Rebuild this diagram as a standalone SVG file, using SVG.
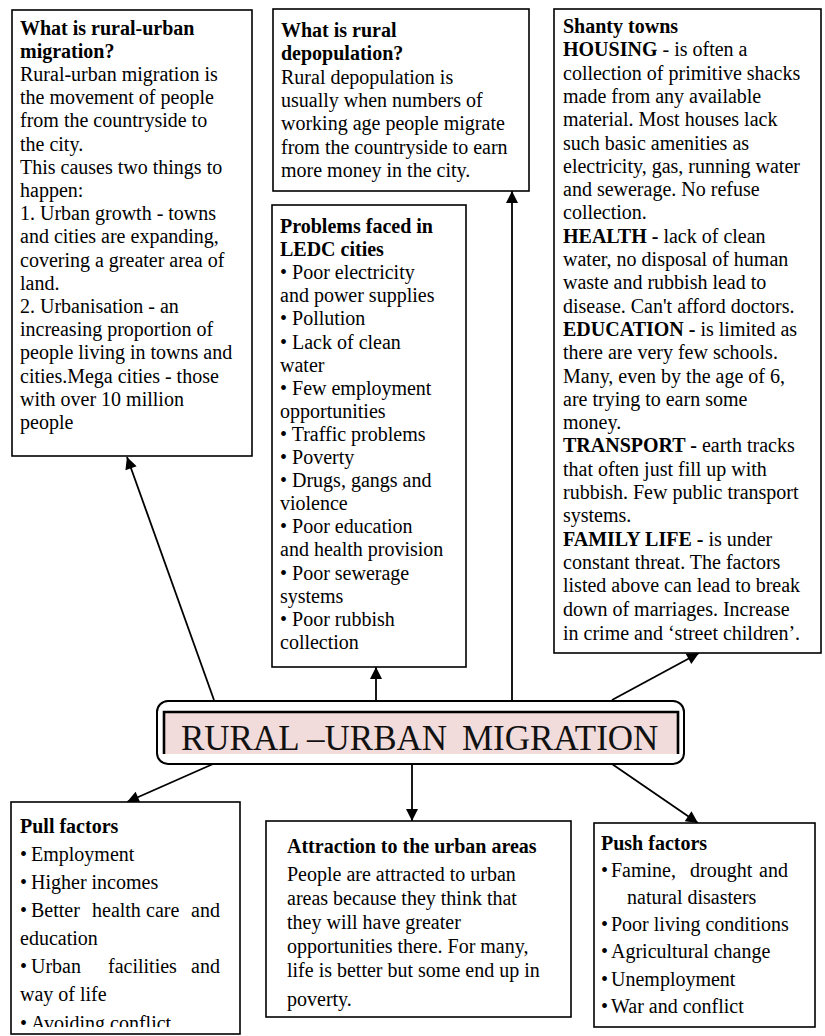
<svg xmlns="http://www.w3.org/2000/svg" width="825" height="1036" viewBox="0 0 825 1036">
<style>
.box{fill:#fff;stroke:#000;stroke-width:1.6}
.t{font-family:"Liberation Serif","Times New Roman",serif;font-size:20px;fill:#000}
.b{font-weight:bold}
.con{stroke:#000;stroke-width:1.8;fill:none;marker-end:url(#ah)}
</style>
<defs>
<marker id="ah" viewBox="0 0 10 10" refX="10" refY="5" markerWidth="14" markerHeight="12" markerUnits="userSpaceOnUse" orient="auto">
<path d="M0,0 L10,5 L0,10 z" fill="#000"/>
</marker>
<clipPath id="pullclip"><rect x="12" y="802" width="228" height="225"/></clipPath>
</defs>
<rect width="825" height="1036" fill="#fff"/>

<g id="connectors">
<line class="con" x1="214" y1="700" x2="127" y2="457"/>
<line class="con" x1="376" y1="700" x2="376" y2="667"/>
<line class="con" x1="512" y1="700" x2="512" y2="191"/>
<line class="con" x1="612" y1="700" x2="699" y2="653"/>
<line class="con" x1="213" y1="764" x2="127" y2="802"/>
<line class="con" x1="412" y1="764" x2="412" y2="821"/>
<line class="con" x1="612" y1="764" x2="698" y2="823"/>
</g>

<g id="node-rural-urban">
<rect class="box" x="12" y="10" width="240" height="446"/>
<text class="t">
<tspan class="b" x="20" y="34.5">What is rural-urban</tspan>
<tspan class="b" x="20" y="57.7">migration?</tspan>
<tspan x="20" y="80.9">Rural-urban migration is</tspan>
<tspan x="20" y="104.1">the movement of people</tspan>
<tspan x="20" y="127.3">from the countryside to</tspan>
<tspan x="20" y="150.5">the city.</tspan>
<tspan x="20" y="173.7">This causes two things to</tspan>
<tspan x="20" y="196.9">happen:</tspan>
<tspan x="20" y="220.1">1. Urban growth - towns</tspan>
<tspan x="20" y="243.3">and cities are expanding,</tspan>
<tspan x="20" y="266.5">covering a greater area of</tspan>
<tspan x="20" y="289.7">land.</tspan>
<tspan x="20" y="312.9">2. Urbanisation - an</tspan>
<tspan x="20" y="336.1">increasing proportion of</tspan>
<tspan x="20" y="359.3">people living in towns and</tspan>
<tspan x="20" y="382.5">cities.Mega cities - those</tspan>
<tspan x="20" y="405.7">with over 10 million</tspan>
<tspan x="20" y="428.9">people</tspan>
</text>
</g>

<g id="node-depopulation">
<rect class="box" x="273" y="9" width="256" height="182"/>
<text class="t">
<tspan class="b" x="281" y="37">What is rural</tspan>
<tspan class="b" x="281" y="60.3">depopulation?</tspan>
<tspan x="281" y="83.6">Rural depopulation is</tspan>
<tspan x="281" y="106.9">usually when numbers of</tspan>
<tspan x="281" y="130.2">working age people migrate</tspan>
<tspan x="281" y="153.5">from the countryside to earn</tspan>
<tspan x="281" y="176.8">more money in the city.</tspan>
</text>
</g>

<g id="node-shanty">
<rect class="box" x="554" y="9" width="267" height="644"/>
<text class="t">
<tspan class="b" x="563" y="33">Shanty towns</tspan>
<tspan x="563" y="56.3"><tspan class="b">HOUSING</tspan> - is often a</tspan>
<tspan x="563" y="79.6">collection of primitive shacks</tspan>
<tspan x="563" y="102.9">made from any available</tspan>
<tspan x="563" y="126.2">material. Most houses lack</tspan>
<tspan x="563" y="149.5">such basic amenities as</tspan>
<tspan x="563" y="172.8">electricity, gas, running water</tspan>
<tspan x="563" y="196.1">and sewerage. No refuse</tspan>
<tspan x="563" y="219.4">collection.</tspan>
<tspan x="563" y="242.7"><tspan class="b">HEALTH -</tspan> lack of clean</tspan>
<tspan x="563" y="266">water, no disposal of human</tspan>
<tspan x="563" y="289.3">waste and rubbish lead to</tspan>
<tspan x="563" y="312.6">disease. Can't afford doctors.</tspan>
<tspan x="563" y="335.9"><tspan class="b">EDUCATION -</tspan> is limited as</tspan>
<tspan x="563" y="359.2">there are very few schools.</tspan>
<tspan x="563" y="382.5">Many, even by the age of 6,</tspan>
<tspan x="563" y="405.8">are trying to earn some</tspan>
<tspan x="563" y="429.1">money.</tspan>
<tspan x="563" y="452.4"><tspan class="b">TRANSPORT -</tspan> earth tracks</tspan>
<tspan x="563" y="475.7">that often just fill up with</tspan>
<tspan x="563" y="499">rubbish. Few public transport</tspan>
<tspan x="563" y="522.3">systems.</tspan>
<tspan x="563" y="545.6"><tspan class="b">FAMILY LIFE -</tspan> is under</tspan>
<tspan x="563" y="568.9">constant threat. The factors</tspan>
<tspan x="563" y="592.2">listed above can lead to break</tspan>
<tspan x="563" y="615.5">down of marriages. Increase</tspan>
<tspan x="563" y="639.5">in crime and ‘street children’.</tspan>
</text>
</g>

<g id="node-problems">
<rect class="box" x="272" y="205" width="194" height="462"/>
<text class="t">
<tspan class="b" x="280" y="233">Problems faced in</tspan>
<tspan class="b" x="280" y="256.1">LEDC cities</tspan>
<tspan x="280" y="279.2">• Poor electricity</tspan>
<tspan x="280" y="302.3">and power supplies</tspan>
<tspan x="280" y="325.4">• Pollution</tspan>
<tspan x="280" y="348.5">• Lack of clean</tspan>
<tspan x="280" y="371.6">water</tspan>
<tspan x="280" y="394.7">• Few employment</tspan>
<tspan x="280" y="417.8">opportunities</tspan>
<tspan x="280" y="440.9">• Traffic problems</tspan>
<tspan x="280" y="464">• Poverty</tspan>
<tspan x="280" y="487.1">• Drugs, gangs and</tspan>
<tspan x="280" y="510.2">violence</tspan>
<tspan x="280" y="533.3">• Poor education</tspan>
<tspan x="280" y="556.4">and health provision</tspan>
<tspan x="280" y="579.5">• Poor sewerage</tspan>
<tspan x="280" y="602.6">systems</tspan>
<tspan x="280" y="625.7">• Poor rubbish</tspan>
<tspan x="280" y="648.8">collection</tspan>
</text>
</g>

<g id="node-center">
<rect x="157" y="701" width="527" height="63" rx="11" ry="11" fill="#fff" stroke="#000" stroke-width="2"/>
<rect x="164" y="712" width="514" height="42" fill="#f2dcdb"/>
<path d="M164,754 V712 H678 V754" fill="none" stroke="#000" stroke-width="2.6"/>
<text x="181" y="750" style="font-family:'Liberation Serif','Times New Roman',serif;font-size:35px;fill:#111">RURAL –URBAN<tspan x="462">MIGRATION</tspan></text>
</g>

<g id="node-pull">
<rect class="box" x="11" y="802" width="229" height="232"/>
<g clip-path="url(#pullclip)">
<text class="t">
<tspan class="b" x="20" y="833">Pull factors</tspan>
<tspan x="20" y="861">•</tspan><tspan x="31" y="861">Employment</tspan>
<tspan x="20" y="889">•</tspan><tspan x="31" y="889">Higher incomes</tspan>
<tspan x="20" y="917">•</tspan><tspan x="31" y="917">Better</tspan><tspan x="92" y="917">health</tspan><tspan x="146" y="917">care</tspan><tspan x="191" y="917">and</tspan>
<tspan x="20" y="945">education</tspan>
<tspan x="20" y="973">•</tspan><tspan x="31" y="973">Urban</tspan><tspan x="108" y="973">facilities</tspan><tspan x="191" y="973">and</tspan>
<tspan x="20" y="1001">way of life</tspan>
<tspan x="20" y="1030">•</tspan><tspan x="31" y="1030">Avoiding conflict</tspan>
</text>
</g>
</g>

<g id="node-attraction">
<rect class="box" x="266" y="821" width="305" height="196"/>
<text class="t">
<tspan class="b" x="287" y="853">Attraction to the urban areas</tspan>
<tspan x="287" y="881">People are attracted to urban</tspan>
<tspan x="287" y="905">areas because they think that</tspan>
<tspan x="287" y="929">they will have greater</tspan>
<tspan x="287" y="953">opportunities there. For many,</tspan>
<tspan x="287" y="977">life is better but some end up in</tspan>
<tspan x="287" y="1006">poverty.</tspan>
</text>
</g>

<g id="node-push">
<rect class="box" x="594" y="823" width="221" height="204"/>
<text class="t">
<tspan class="b" x="601" y="850">Push factors</tspan>
<tspan x="601" y="877">•</tspan><tspan x="611" y="877">Famine,</tspan><tspan x="690" y="877">drought</tspan><tspan x="759" y="877">and</tspan>
<tspan x="627" y="904">natural disasters</tspan>
<tspan x="601" y="931">•</tspan><tspan x="611" y="931">Poor living conditions</tspan>
<tspan x="601" y="958">•</tspan><tspan x="611" y="958">Agricultural change</tspan>
<tspan x="601" y="986">•</tspan><tspan x="611" y="986">Unemployment</tspan>
<tspan x="601" y="1013">•</tspan><tspan x="611" y="1013">War and conflict</tspan>
</text>
</g>
</svg>
